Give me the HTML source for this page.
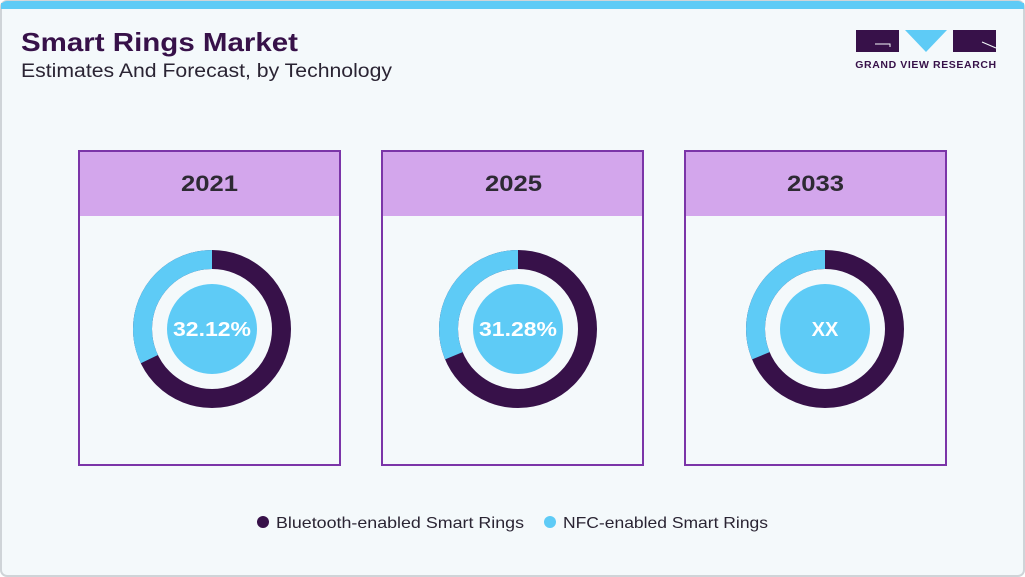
<!DOCTYPE html>
<html><head><meta charset="utf-8"><style>
body{margin:0;width:1025px;height:577px;background:#fff;font-family:"Liberation Sans",sans-serif;overflow:hidden}
</style></head><body>
<svg width="1025" height="577" xmlns="http://www.w3.org/2000/svg" style="position:absolute;left:0;top:0">
<rect x="1" y="1" width="1023" height="575" rx="6" fill="#f4f9fb" stroke="#cfd4d8" stroke-width="2"/>
<path d="M1 8 V7 a6 6 0 0 1 6 -6 H1018 a6 6 0 0 1 6 6 V8 Z" fill="#5ecbf6"/>
<rect x="1" y="3" width="1023" height="6" fill="#5ecbf6"/>
<text x="21" y="51" font-size="26" font-weight="bold" fill="#371149" textLength="277" lengthAdjust="spacingAndGlyphs">Smart Rings Market</text>
<text x="21" y="77" font-size="19" fill="#2a2433" textLength="371" lengthAdjust="spacingAndGlyphs">Estimates And Forecast, by Technology</text>
<rect x="856" y="30" width="43" height="22" fill="#371149"/>
<path d="M875 44 H890 V47" stroke="#f4f9fb" stroke-width="1" fill="none"/>
<polygon points="905,30 947,30 926,52" fill="#5ecbf6"/>
<rect x="953" y="30" width="43" height="22" fill="#371149"/>
<path d="M982 42 L996 48" stroke="#f4f9fb" stroke-width="1"/>
<text x="926" y="68" font-size="10.5" font-weight="bold" fill="#371149" text-anchor="middle" letter-spacing="0.6">GRAND VIEW RESEARCH</text>
<g>
<rect x="79" y="151" width="261" height="314" fill="#f4f9fb" stroke="#7b35a8" stroke-width="2"/>
<rect x="80" y="152" width="259" height="64" fill="#d3a6ec"/>
<text x="181" y="191" font-size="22" font-weight="bold" fill="#2d2a33" textLength="57" lengthAdjust="spacingAndGlyphs">2021</text>
<rect x="382" y="151" width="261" height="314" fill="#f4f9fb" stroke="#7b35a8" stroke-width="2"/>
<rect x="383" y="152" width="259" height="64" fill="#d3a6ec"/>
<text x="485" y="191" font-size="22" font-weight="bold" fill="#2d2a33" textLength="57" lengthAdjust="spacingAndGlyphs">2025</text>
<rect x="685" y="151" width="261" height="314" fill="#f4f9fb" stroke="#7b35a8" stroke-width="2"/>
<rect x="686" y="152" width="259" height="64" fill="#d3a6ec"/>
<text x="787" y="191" font-size="22" font-weight="bold" fill="#2d2a33" textLength="57" lengthAdjust="spacingAndGlyphs">2033</text>
</g>
<g fill="none" stroke-width="19">
<circle cx="212" cy="329" r="69.5" stroke="#371149"/>
<circle cx="212" cy="329" r="69.5" stroke="#5ecbf6" stroke-dasharray="140.3 500" transform="rotate(-90 212 329) scale(1,-1) translate(0,-658)"/>
<circle cx="518" cy="329" r="69.5" stroke="#371149"/>
<circle cx="518" cy="329" r="69.5" stroke="#5ecbf6" stroke-dasharray="136.6 500" transform="rotate(-90 518 329) scale(1,-1) translate(0,-658)"/>
<circle cx="825" cy="329" r="69.5" stroke="#371149"/>
<circle cx="825" cy="329" r="69.5" stroke="#5ecbf6" stroke-dasharray="136.6 500" transform="rotate(-90 825 329) scale(1,-1) translate(0,-658)"/>
</g>
<circle cx="212" cy="329" r="45" fill="#5ecbf6"/>
<circle cx="518" cy="329" r="45" fill="#5ecbf6"/>
<circle cx="825" cy="329" r="45" fill="#5ecbf6"/>
<text x="173" y="336" font-size="20" font-weight="bold" fill="#fff" textLength="78" lengthAdjust="spacingAndGlyphs">32.12%</text>
<text x="479" y="336" font-size="20" font-weight="bold" fill="#fff" textLength="78" lengthAdjust="spacingAndGlyphs">31.28%</text>
<text x="825" y="336" font-size="20" font-weight="bold" fill="#fff" text-anchor="middle">XX</text>
<circle cx="263" cy="522" r="6" fill="#371149"/>
<text x="276" y="528" font-size="16" fill="#2a2433" textLength="248" lengthAdjust="spacingAndGlyphs">Bluetooth-enabled Smart Rings</text>
<circle cx="550" cy="522" r="6" fill="#5ecbf6"/>
<text x="563" y="528" font-size="16" fill="#2a2433" textLength="205" lengthAdjust="spacingAndGlyphs">NFC-enabled Smart Rings</text>
</svg>
</body></html>
